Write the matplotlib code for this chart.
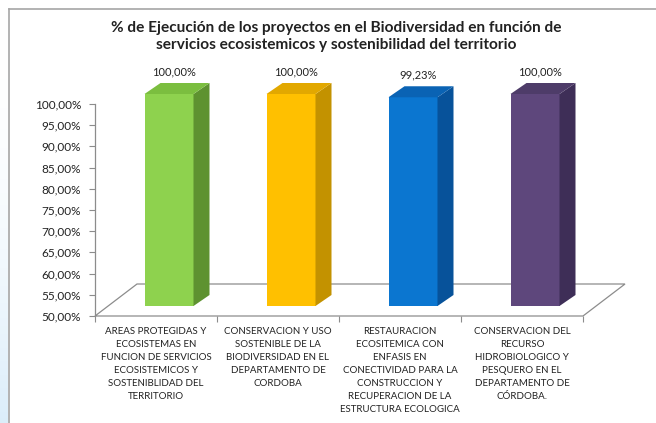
import numpy as np
import matplotlib.pyplot as plt
from matplotlib.patches import Polygon
from matplotlib.lines import Line2D

plt.rcParams['font.family'] = ['Lato', 'DejaVu Sans']

title = ('% de Ejecución de los proyectos en el Biodiversidad en función de\n'
         'servicios ecosistemicos y sostenibilidad del territorio')
categories = [
    'AREAS PROTEGIDAS Y\nECOSISTEMAS EN\nFUNCION DE SERVICIOS\nECOSISTEMICOS Y\nSOSTENIBLIDAD DEL\nTERRITORIO',
    'CONSERVACION Y USO\nSOSTENIBLE DE LA\nBIODIVERSIDAD EN EL\nDEPARTAMENTO DE\nCORDOBA',
    'RESTAURACION\nECOSITEMICA CON\nENFASIS EN\nCONECTIVIDAD PARA LA\nCONSTRUCCION Y\nRECUPERACION DE LA\nESTRUCTURA ECOLOGICA',
    'CONSERVACION DEL\nRECURSO\nHIDROBIOLOGICO Y\nPESQUERO EN EL\nDEPARTAMENTO DE\nCÓRDOBA.',
]
values = np.array([100.00, 100.00, 99.23, 100.00])
value_labels = ['100,00%', '100,00%', '99,23%', '100,00%']
y_ticks = np.arange(50, 101, 5)
y_tick_labels = [f'{t:.2f}%'.replace('.', ',') for t in y_ticks]

front_colors = ['#8ED24E', '#FFC000', '#0B76D0', '#5E477C']
side_colors = ['#5E9230', '#C39200', '#07529A', '#3E2E57']
top_colors = ['#7BBE3F', '#E2A800', '#0A63B4', '#4E3C69']

W, H = 656, 423
fig = plt.figure(figsize=(W / 100, H / 100), dpi=100)

# light blue strip on the far left edge
strip = fig.add_axes([0, 0, 8 / W, 1 - 9 / H])
grad = np.linspace(0, 1, 200) ** 2
strip.imshow(grad[:, None, None] * (np.array([0.86, 0.93, 0.98]) - 1) + 1,
             aspect='auto', origin='upper')
strip.axis('off')

ax = fig.add_axes([95 / W, 1 - 316 / H, (583 - 95) / W, (316 - 104) / H])
ax.set_xlim(0, len(values))
ax.set_ylim(50, 100)

# pixel -> data conversion for the fake 3d depth
bb = ax.get_position()
px_x = len(values) / (bb.width * W)
px_y = 50 / (bb.height * H)

def off(dx, dy):
    return dx * px_x, dy * px_y

gray = '#8C8C8C'

# floor
fdx, fdy = off(42, 32)
n = len(values)
floor = Polygon([(0, 50), (n, 50), (n + fdx, 50 + fdy), (fdx, 50 + fdy)],
                closed=True, facecolor='white', edgecolor=gray, lw=0.9,
                clip_on=False, zorder=1)
ax.add_patch(floor)

# bars
bw = 49 * px_x
fx, fy = off(13, 10)
ddx, ddy = off(16, 11)
x = np.arange(n) + 0.5
ax.bar(x + fx, values - 50, bottom=50 + fy, width=bw, color=front_colors,
       clip_on=False, zorder=3, linewidth=0)
for i, v in enumerate(values):
    x0 = x[i] - bw / 2 + fx
    x1 = x[i] + bw / 2 + fx
    b = 50 + fy
    t = v + fy
    side = Polygon([(x1, b), (x1 + ddx, b + ddy), (x1 + ddx, t + ddy), (x1, t)],
                   closed=True, facecolor=side_colors[i], lw=0, clip_on=False, zorder=3)
    top = Polygon([(x0, t), (x1, t), (x1 + ddx, t + ddy), (x0 + ddx, t + ddy)],
                  closed=True, facecolor=top_colors[i], lw=0, clip_on=False, zorder=3)
    ax.add_patch(side)
    ax.add_patch(top)
    lx, ly = off(18, 0)
    ax.annotate(value_labels[i], (x[i] + lx, v + fy + ddy), xytext=(0, 4),
                textcoords='offset points', ha='center', va='bottom',
                fontsize=8, color='#222222', annotation_clip=False)

for s in ['top', 'right', 'bottom']:
    ax.spines[s].set_visible(False)
ax.spines['left'].set_color(gray)
ax.spines['left'].set_linewidth(0.9)
ax.set_facecolor('none')

ax.set_yticks(y_ticks)
ax.set_yticklabels(y_tick_labels)
ax.tick_params(axis='y', length=4, color=gray, labelsize=8.5, pad=6, labelcolor='#222222')

ax.set_xticks(np.arange(n + 1))
ax.set_xticklabels([])
ax.tick_params(axis='x', which='major', length=4, color=gray)
ax.set_xticks(x, minor=True)
ax.set_xticklabels(categories, minor=True, fontsize=7, linespacing=1.58, color='#222222')
ax.tick_params(axis='x', which='minor', length=0, pad=8)

fig.text(336 / W, 1 - 36.5 / H, title, ha='center', va='center', fontsize=11.1,
         fontweight='bold', linespacing=1.28, color='#222222')

# chart frame
fig.add_artist(Line2D([9 / W, 1], [1 - 9 / H, 1 - 9 / H], color='#A6A6A6', lw=1.2))
fig.add_artist(Line2D([9 / W, 9 / W], [0, 1 - 9 / H], color='#A6A6A6', lw=1.2))

fig.savefig('out.png', dpi=100)
